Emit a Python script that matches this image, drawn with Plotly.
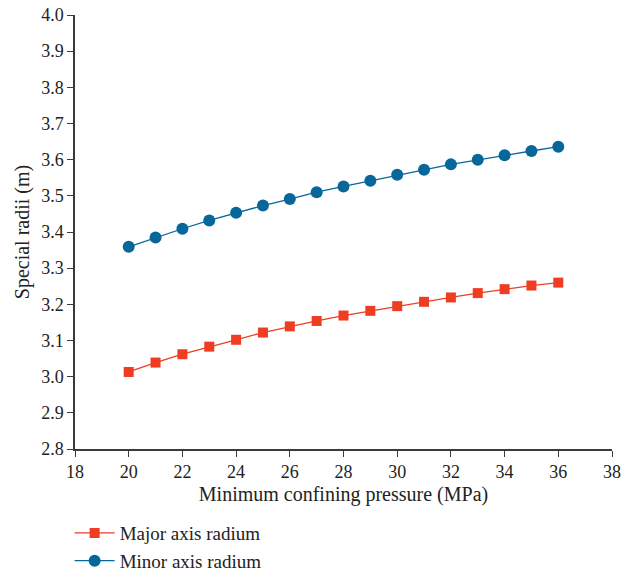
import plotly.graph_objects as go

# Minimum confining pressure (MPa)
pressure = [20, 21, 22, 23, 24, 25, 26, 27, 28, 29, 30, 31, 32, 33, 34, 35, 36]

# Special radii (m)
major_radius = [3.013, 3.039, 3.062, 3.083, 3.102, 3.122, 3.139, 3.154, 3.169,
                3.182, 3.195, 3.207, 3.219, 3.231, 3.242, 3.252, 3.260]
minor_radius = [3.359, 3.385, 3.409, 3.432, 3.453, 3.473, 3.491, 3.510, 3.526,
                3.542, 3.558, 3.572, 3.587, 3.600, 3.612, 3.624, 3.636]

x_ticks = list(range(18, 39, 2))
y_ticks = [round(2.8 + 0.1 * i, 1) for i in range(13)]

serif = "Liberation Serif"
axis_color = "#3a3a3a"

fig = go.Figure()
fig.add_trace(go.Scatter(
    x=pressure, y=major_radius, mode="lines+markers", name="Major axis radium",
    line=dict(color="#EE3D23", width=1.3),
    marker=dict(symbol="square", size=10, color="#EE3D23"),
))
fig.add_trace(go.Scatter(
    x=pressure, y=minor_radius, mode="lines+markers", name="Minor axis radium",
    line=dict(color="#07679B", width=1.3),
    marker=dict(symbol="circle", size=12, color="#07679B"),
))

axis_common = dict(
    showgrid=False, zeroline=False, showline=True, linecolor=axis_color,
    linewidth=1.5, ticks="outside", ticklen=6, tickwidth=1.2, tickcolor=axis_color,
    tickfont=dict(family=serif, size=18, color="#222"),
    title_font=dict(family=serif, size=20, color="#222"),
)

fig.update_xaxes(
    range=[18, 38], tickvals=x_ticks, ticktext=[str(v) for v in x_ticks],
    title_text="Minimum confining pressure (MPa)", title_standoff=6, **axis_common,
)
fig.update_yaxes(
    range=[2.8, 4.0], tickvals=y_ticks, ticktext=[f"{v:.1f}" for v in y_ticks],
    title_text="Special radii (m)", title_standoff=6, **axis_common,
)

fig.update_layout(
    width=634, height=576,
    margin=dict(l=75, r=22, t=15, b=127, autoexpand=False),
    paper_bgcolor="white", plot_bgcolor="white",
    font=dict(family=serif, size=18, color="#222"),
    legend=dict(
        x=-0.01, y=-0.15, xanchor="left", yanchor="top",
        font=dict(family=serif, size=19, color="#222"),
        itemwidth=40, tracegroupgap=0, bgcolor="rgba(0,0,0,0)",
    ),
    showlegend=True,
)

fig.write_html("out.html")
